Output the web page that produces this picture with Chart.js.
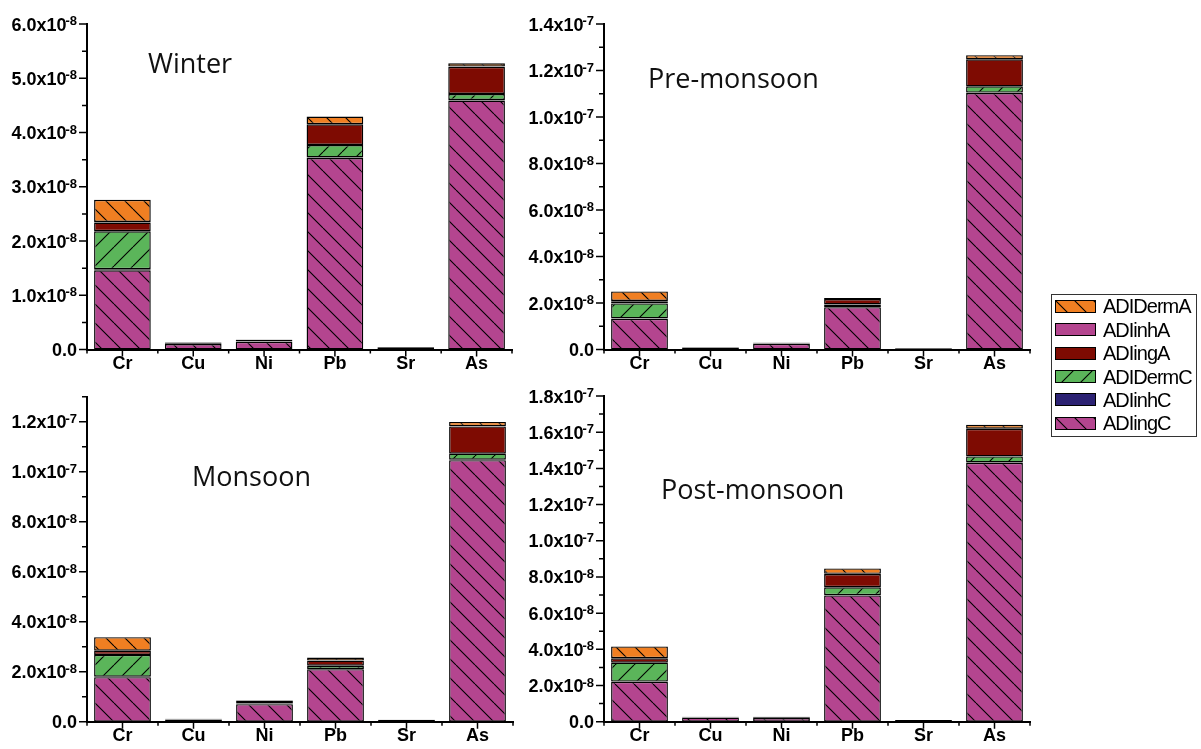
<!DOCTYPE html>
<html>
<head>
<meta charset="utf-8">
<script src="https://cdn.jsdelivr.net/npm/chart.js@4.4.1/dist/chart.umd.min.js"></script>
<style>
html,body{margin:0;padding:0;background:#fff;}
body{width:1201px;height:749px;position:relative;overflow:hidden;}
canvas.panel{position:absolute;}
#legend{position:absolute;left:1051px;top:294px;width:144px;height:141px;border:1px solid #333;
  font-family:"Liberation Sans",Arial,sans-serif;font-size:20px;color:#000;}
.row{position:absolute;left:3px;height:20px;display:flex;align-items:center;white-space:nowrap;}
.row canvas{display:block;margin-right:7px;}
.row span{line-height:20px;letter-spacing:-1px;}
</style>
</head>
<body>
<canvas id="c1" class="panel" width="520" height="385" style="left:0;top:0"></canvas>
<canvas id="c2" class="panel" width="530" height="385" style="left:520px;top:0"></canvas>
<canvas id="c3" class="panel" width="520" height="369" style="left:0;top:380px"></canvas>
<canvas id="c4" class="panel" width="530" height="369" style="left:520px;top:380px"></canvas>
<div id="legend"></div>
<script>
// values are in units of 1e-8
const categories = ['Cr', 'Cu', 'Ni', 'Pb', 'Sr', 'As'];
const seriesNames = ['ADIingC', 'ADIinhC', 'ADIDermC', 'ADIingA', 'ADIinhA', 'ADIDermA'];

// Winter
const winterIngC  = [1.46, 0.10, 0.14, 3.53, 0.04, 4.59];
const winterInhC  = [0.02, 0.003, 0.004, 0.01, 0.001, 0.01];
const winterDermC = [0.70, 0.005, 0.005, 0.23, 0.001, 0.11];
const winterIngA  = [0.16, 0.02, 0.03, 0.38, 0.002, 0.50];
const winterInhA  = [0.01, 0.001, 0.002, 0.005, 0.001, 0.005];
const winterDermA = [0.41, 0.003, 0.003, 0.14, 0.001, 0.06];

// Pre-monsoon
const preIngC  = [1.32, 0.08, 0.24, 1.82, 0.05, 11.03];
const preInhC  = [0.02, 0.002, 0.005, 0.01, 0.001, 0.02];
const preDermC = [0.64, 0.005, 0.01, 0.11, 0.001, 0.27];
const preIngA  = [0.10, 0.02, 0.04, 0.23, 0.002, 1.16];
const preInhA  = [0.01, 0.001, 0.002, 0.005, 0.001, 0.01];
const preDermA = [0.41, 0.002, 0.005, 0.04, 0.001, 0.17];

// Monsoon
const monIngC  = [1.78, 0.09, 0.70, 2.10, 0.07, 10.46];
const monInhC  = [0.02, 0.002, 0.01, 0.01, 0.001, 0.02];
const monDermC = [0.87, 0.005, 0.02, 0.13, 0.001, 0.24];
const monIngA  = [0.16, 0.02, 0.10, 0.20, 0.002, 1.09];
const monInhA  = [0.01, 0.001, 0.005, 0.005, 0.001, 0.01];
const monDermA = [0.54, 0.005, 0.02, 0.12, 0.001, 0.17];

// Post-monsoon
const postIngC  = [2.20, 0.22, 0.20, 6.98, 0.09, 14.30];
const postInhC  = [0.02, 0.005, 0.005, 0.02, 0.001, 0.03];
const postDermC = [1.04, 0.01, 0.01, 0.43, 0.001, 0.33];
const postIngA  = [0.24, 0.03, 0.04, 0.73, 0.003, 1.52];
const postInhA  = [0.01, 0.002, 0.002, 0.01, 0.001, 0.01];
const postDermA = [0.65, 0.01, 0.01, 0.30, 0.001, 0.22];

// labelled y ticks (units of 1e-8)
const winterTicks  = [0, 1, 2, 3, 4, 5, 6];
const preTicks     = [0, 2, 4, 6, 8, 10, 12, 14];
const monTicks     = [0, 2, 4, 6, 8, 10, 12];
const postTicks    = [0, 2, 4, 6, 8, 10, 12, 14, 16, 18];

// hatch fills
function hatch(color, dir) {
  const s = 19;
  const c = document.createElement('canvas');
  c.width = s; c.height = s;
  const g = c.getContext('2d');
  g.fillStyle = color;
  g.fillRect(0, 0, s, s);
  if (dir) {
    g.strokeStyle = '#000';
    g.lineWidth = 1.1;
    g.beginPath();
    for (const k of [-s, 0, s]) {
      if (dir === '\\') { g.moveTo(k, 0); g.lineTo(k + s, s); }
      else { g.moveTo(k, s); g.lineTo(k + s, 0); }
    }
    g.stroke();
  }
  return g.createPattern(c, 'repeat');
}
const fills = [
  hatch('#B4458F', '\\'),  // ADIingC
  '#2C2273',               // ADIinhC
  hatch('#5BB55A', '/'),   // ADIDermC
  '#7E0B02',               // ADIingA
  '#B4458F',               // ADIinhA
  hatch('#F07F22', '\\')   // ADIDermA
];

const panels = [
  {id: 'c1', w: 520, h: 385, title: 'Winter', tx: 148, ty: 73,
   data: [winterIngC, winterInhC, winterDermC, winterIngA, winterInhA, winterDermA],
   ticks: winterTicks, max: 6, minor: 0.5, left: 87, right: 512, top: 24, bottom: 349.5},
  {id: 'c2', w: 530, h: 385, title: 'Pre-monsoon', tx: 128, ty: 88,
   data: [preIngC, preInhC, preDermC, preIngA, preInhA, preDermA],
   ticks: preTicks, max: 14, minor: 1, left: 84, right: 510, top: 24, bottom: 349.5},
  {id: 'c3', w: 520, h: 369, title: 'Monsoon', tx: 192, ty: 106,
   data: [monIngC, monInhC, monDermC, monIngA, monInhA, monDermA],
   ticks: monTicks, max: 13, minor: 1, left: 87, right: 513, top: 16.7, bottom: 341.7},
  {id: 'c4', w: 530, h: 369, title: 'Post-monsoon', tx: 141, ty: 119,
   data: [postIngC, postInhC, postDermC, postIngA, postInhA, postDermA],
   ticks: postTicks, max: 18, minor: 1, left: 84, right: 510, top: 16, bottom: 341.7}
];

const labelFont = '"Liberation Sans", Arial, sans-serif';

function fmt(v) {
  if (v === 0) return ['0.0', ''];
  const real = v * 1e-8;
  const e = Math.floor(Math.log10(real) + 1e-9);
  const m = real / Math.pow(10, e);
  return [m.toFixed(1) + 'x10', String(e)];
}

function deco(p) {
  return {
    id: 'deco',
    afterDraw(chart) {
      const ctx = chart.ctx;
      const xs = chart.scales.x, ys = chart.scales.y;
      const L = chart.chartArea.left, B = chart.chartArea.bottom;
      ctx.save();
      ctx.strokeStyle = '#000';
      ctx.lineWidth = 1.5;
      ctx.beginPath();
      const n = Math.round(p.max / p.minor);
      for (let i = 0; i <= n; i++) {
        const v = i * p.minor;
        const py = ys.getPixelForValue(v);
        const major = p.ticks.some(t => Math.abs(t - v) < 1e-6);
        ctx.moveTo(L - (major ? 8 : 5), py);
        ctx.lineTo(L, py);
      }
      for (let i = 0; i < categories.length; i++) {
        const px = xs.getPixelForValue(i);
        ctx.moveTo(px, B); ctx.lineTo(px, B + 7);
      }
      for (let i = 0; i <= categories.length; i++) {
        const px = xs.getPixelForValue(i - 0.5);
        ctx.moveTo(px, B); ctx.lineTo(px, B + 4);
      }
      ctx.stroke();

      ctx.fillStyle = '#000';
      ctx.textAlign = 'right';
      ctx.textBaseline = 'alphabetic';
      const R = L - 10;
      p.ticks.forEach(t => {
        const py = ys.getPixelForValue(t);
        const [main, sup] = fmt(t);
        ctx.font = 'bold 13px ' + labelFont;
        const sw = sup ? ctx.measureText(sup).width : 0;
        if (sup) ctx.fillText(sup, R, py + 1);
        ctx.font = 'bold 18px ' + labelFont;
        ctx.fillText(main, R - sw + (sup ? 1 : 0), py + 6.5);
      });

      ctx.textAlign = 'left';
      ctx.fillStyle = '#111';
      ctx.font = '27px "Open Sans", sans-serif';
      ctx.fillText(p.title, p.tx, p.ty);
      ctx.restore();
    }
  };
}

panels.forEach(p => {
  new Chart(document.getElementById(p.id), {
    type: 'bar',
    data: {
      labels: categories,
      datasets: seriesNames.map((name, i) => ({
        label: name,
        data: p.data[i],
        backgroundColor: fills[i],
        borderColor: '#000',
        borderWidth: 1.4,
        borderSkipped: false,
        barPercentage: 0.8,
        categoryPercentage: 1
      }))
    },
    options: {
      responsive: false,
      animation: false,
      devicePixelRatio: 1,
      layout: {padding: {top: p.top, right: p.w - p.right, left: 0, bottom: 0}},
      plugins: {legend: {display: false}, tooltip: {enabled: false}},
      scales: {
        x: {
          stacked: true,
          grid: {display: false, drawTicks: false},
          border: {display: true, color: '#000', width: 2},
          ticks: {color: '#000', padding: 4, maxRotation: 0, autoSkip: false,
                  font: {family: labelFont, size: 18, weight: 'bold'}},
          afterFit: s => { s.height = p.h - p.bottom; }
        },
        y: {
          stacked: true,
          min: 0,
          max: p.max,
          grid: {display: false, drawTicks: false},
          border: {display: true, color: '#000', width: 2},
          ticks: {display: false, stepSize: p.minor},
          afterFit: s => { s.width = p.left; }
        }
      }
    },
    plugins: [deco(p)]
  });
});

// legend, top to bottom
const legendOrder = [5, 4, 3, 2, 1, 0];
const legend = document.getElementById('legend');
legendOrder.forEach((si, r) => {
  const row = document.createElement('div');
  row.className = 'row';
  row.style.top = (11.3 + r * 23.4 - 10) + 'px';
  const sw = document.createElement('canvas');
  sw.width = 41; sw.height = 13;
  const g = sw.getContext('2d');
  g.fillStyle = fills[si];
  g.fillRect(0, 0, 41, 13);
  g.strokeStyle = '#000';
  g.lineWidth = 1;
  g.strokeRect(0.5, 0.5, 40, 12);
  const tx = document.createElement('span');
  tx.textContent = seriesNames[si];
  row.appendChild(sw);
  row.appendChild(tx);
  legend.appendChild(row);
});
</script>
</body>
</html>
